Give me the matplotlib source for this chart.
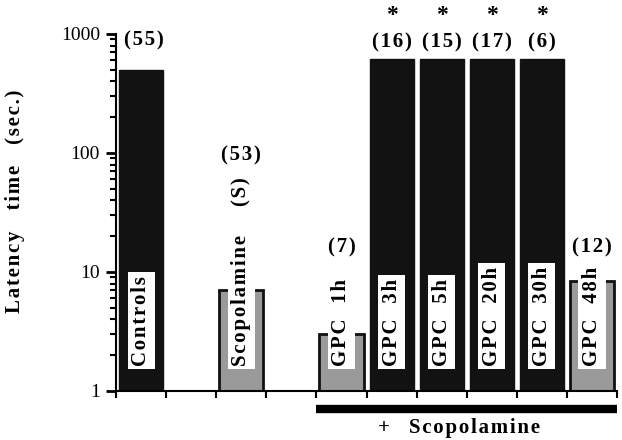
import numpy as np
import matplotlib.pyplot as plt

# data
slots = [0, 2, 4, 5, 6, 7, 8, 9]
labels = ["Controls", "Scopolamine", "GPC  1h", "GPC  3h", "GPC  5h", "GPC  20h", "GPC  30h", "GPC  48h"]
latency = [500, 7, 3, 620, 620, 620, 620, 8.4]
n_animals = ["(55)", "(53)", "(7)", "(16)", "(15)", "(17)", "(6)", "(12)"]
signif = [False, False, False, True, True, True, True, False]

serif = "Liberation Serif"
fs = 15


def spaced(s):
    # slight letter spacing as in the scanned figure
    return "\u200a".join(s)


fig = plt.figure(figsize=(6.22, 4.4), dpi=100)
ax = fig.add_axes([0.1865, 0.1114, 0.8055, 0.8114])

x = np.array(slots) + 0.5
for xi, v in zip(x, latency):
    if v > 100:
        ax.bar(xi, v, width=0.88, bottom=1, color="#121212", edgecolor="#121212")
    else:
        ax.bar(xi, v - 1, width=0.88, bottom=1, color="#9a9a9a", edgecolor="#111111", linewidth=2)

ax.set_yscale("log")
ax.set_ylim(1, 1000)
ax.set_xlim(0, 10)
ax.set_yticks([1, 10, 100, 1000])
ax.set_yticklabels(["1", "10", "100", "1000"], fontfamily=serif, fontsize=14)
ax.set_xticks(np.arange(0, 11))
ax.set_xticklabels([])
ax.tick_params(axis="y", which="major", direction="out", length=7.5, width=2, pad=4)
ax.tick_params(axis="y", which="minor", direction="out", length=4, width=1.5)
ax.tick_params(axis="x", direction="out", length=5, width=1.5)
for s in ["top", "right"]:
    ax.spines[s].set_visible(False)
ax.spines["left"].set_linewidth(1.5)
ax.spines["bottom"].set_linewidth(1.5)

ax.set_ylabel("    ".join(spaced(w) for w in ["Latency", "time", "(sec.)"]),
              fontfamily=serif, fontsize=fs, fontweight="bold")
ax.yaxis.set_label_coords(-0.182, 0.53)

# names inside the bars
for xi, lab in zip(x, labels):
    ax.text(xi, 1.63, spaced(lab), rotation=90, ha="center", va="bottom", fontfamily=serif,
            fontsize=fs, fontweight="bold",
            bbox=dict(facecolor="white", edgecolor="none", pad=2.5))

# group sizes and asterisks
for xi, v, n, s in zip(x, latency, n_animals, signif):
    if v > 100:
        ypos = 850 if xi > 1 else 880
    else:
        ypos = 16
    if n == "(53)":
        ypos = 95
    ax.text(xi + (0.05 if xi < 1 else 0), ypos, spaced(n), ha="center", va="center",
            fontfamily=serif, fontsize=fs, fontweight="bold", clip_on=False)
    if s:
        ax.text(xi, 1420, "*", ha="center", va="center", fontfamily=serif,
                fontsize=17, fontweight="bold", clip_on=False)
ax.text(2.5, 47, spaced("(S)"), rotation=90, ha="center", va="center", fontfamily=serif,
        fontsize=fs, fontweight="bold")

# scopolamine bar below the axis
ax.plot([4, 10], [0.706, 0.706], color="black", linewidth=6, solid_capstyle="butt", clip_on=False)
ax.text(5.35, 0.49, "+", ha="center", va="center", fontfamily=serif, fontsize=fs,
        fontweight="bold", clip_on=False)
ax.text(7.15, 0.49, spaced("Scopolamine"), ha="center", va="center", fontfamily=serif,
        fontsize=fs, fontweight="bold", clip_on=False)

fig.savefig("out.png", dpi=100)
